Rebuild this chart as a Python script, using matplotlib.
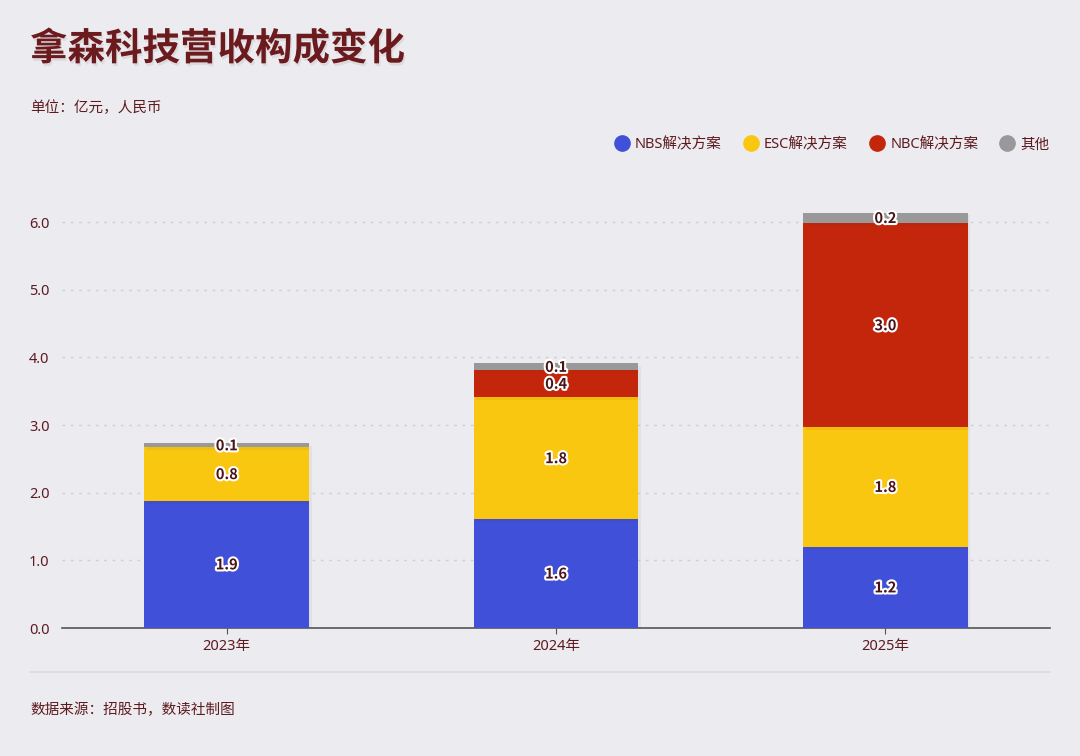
import matplotlib
matplotlib.use("Agg")
import matplotlib.pyplot as plt
import matplotlib.patheffects as pe
from matplotlib.lines import Line2D

plt.rcParams['font.family'] = ['Noto Sans', 'Noto Sans CJK SC', 'DejaVu Sans']

years = ['2023年', '2024年', '2025年']
nbs = [1.88, 1.61, 1.20]
esc = [0.79, 1.80, 1.77]
nbc = [0.00, 0.40, 3.01]
other = [0.06, 0.10, 0.16]

series_names = ['NBS解决方案', 'ESC解决方案', 'NBC解决方案', '其他']
colors = ['#4050d8', '#f9c70f', '#c4260c', '#999999']

bg = '#ecebef'
maroon = '#5e1b1f'

fig = plt.figure(figsize=(10.8, 7.56), dpi=100, facecolor=bg)
ax = fig.add_axes([62 / 1080, 1 - 628 / 756, 988 / 1080, 433 / 756])
ax.set_facecolor(bg)

x = list(range(len(years)))
bottoms = [0.0] * len(years)
for vals, col in zip([nbs, esc, nbc, other], colors):
    ax.bar(x, vals, 0.5, bottom=bottoms, color=col, zorder=3,
           path_effects=[pe.SimplePatchShadow(offset=(2, -2), alpha=0.05), pe.Normal()])
    for xi, v, b in zip(x, vals, bottoms):
        if v <= 0:
            continue
        ax.text(xi, b + v / 2, f'{v:.1f}', ha='center', va='center', fontsize=10.5,
                fontweight='bold', color='#4a1418', zorder=5,
                family=['Noto Sans CJK SC', 'DejaVu Sans'],
                path_effects=[pe.withStroke(linewidth=3, foreground='white')])
    bottoms = [b + v for b, v in zip(bottoms, vals)]

ax.set_xlim(-0.5, 2.5)
ax.set_ylim(0, 6.4)
ax.set_xticks(x)
ax.set_xticklabels(years, fontsize=10.5, color=maroon)
ax.set_yticks([0, 1, 2, 3, 4, 5, 6])
ax.set_yticklabels([f'{t:.1f}' for t in range(7)], fontsize=10.5, color=maroon)
ax.tick_params(axis='y', length=0, pad=9)
ax.tick_params(axis='x', length=4, color='#555555', pad=4)
ax.grid(axis='y', linestyle=(0, (2, 4)), color='#cfcfd4', linewidth=1, zorder=0)
for s in ['top', 'right', 'left']:
    ax.spines[s].set_visible(False)
ax.spines['bottom'].set_color('#555555')
ax.spines['bottom'].set_linewidth(1.2)

fig.text(30 / 1080, 1 - 50 / 756, '拿森科技营收构成变化', fontsize=27, fontweight='bold',
         color='#6b1a1e', va='center', ha='left',
         path_effects=[pe.SimplePatchShadow(offset=(1, -2), alpha=0.07), pe.Normal()])
fig.text(30 / 1080, 1 - 109 / 756, '单位：亿元，人民币', fontsize=10.5, color=maroon,
         va='center', ha='left')

handles = [Line2D([], [], marker='o', linestyle='', markersize=11, color=c) for c in colors]
leg = fig.legend(handles, series_names, loc='center right', ncol=4,
                 bbox_to_anchor=(1063 / 1080, 1 - 145 / 756), frameon=False,
                 fontsize=10.5, handletextpad=0.1, columnspacing=1.2, handlelength=1.6)
for t in leg.get_texts():
    t.set_color(maroon)

fig.add_artist(Line2D([30 / 1080, 1050 / 1080], [1 - 672 / 756, 1 - 672 / 756],
                      color='#dcdce0', linewidth=1.2))
fig.text(30 / 1080, 1 - 711 / 756, '数据来源：招股书，数读社制图', fontsize=10.5, color=maroon,
         va='center', ha='left')

fig.savefig('out.png', dpi=100, facecolor=bg)
